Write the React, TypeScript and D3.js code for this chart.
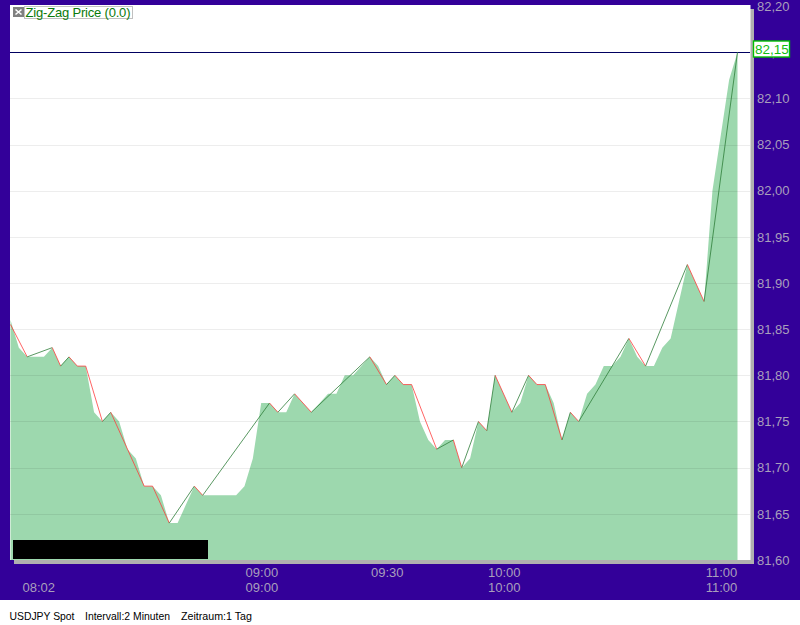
import React, { useEffect, useRef } from 'react';
import * as d3 from 'd3';

// close price per 2 minute bar
const closes = [
	81.86, 81.83, 81.82, 81.82, 81.82, 81.83, 81.81, 81.82, 81.81, 81.81,
	81.76, 81.75, 81.76, 81.75, 81.72, 81.71, 81.68, 81.68, 81.67, 81.64,
	81.64, 81.66, 81.68, 81.67, 81.67, 81.67, 81.67, 81.67, 81.68, 81.71,
	81.77, 81.77, 81.76, 81.76, 81.78, 81.77, 81.76, 81.77, 81.78, 81.78,
	81.80, 81.80, 81.81, 81.82, 81.81, 81.79, 81.80, 81.79, 81.79, 81.75,
	81.73, 81.72, 81.73, 81.73, 81.70, 81.71, 81.75, 81.74, 81.80, 81.78,
	81.76, 81.77, 81.80, 81.79, 81.79, 81.77, 81.73, 81.76, 81.75, 81.78,
	81.79, 81.81, 81.81, 81.82, 81.84, 81.82, 81.81, 81.81, 81.83, 81.84,
	81.88, 81.92, 81.90, 81.88, 82.00, 82.06, 82.12, 82.15,
];

// zig-zag pivots: bar index and price
const pivotBars = [0, 2, 5, 6, 7, 8, 9, 11, 12, 16, 17, 19, 22, 23, 31, 32, 34, 36, 43, 45, 46, 47, 48, 51, 53, 54, 56, 57, 58, 60, 62, 63, 64, 66, 67, 68, 74, 76, 81, 83, 87];
const pivotPrices = [81.855, 81.82, 81.83, 81.81, 81.82, 81.81, 81.81, 81.75, 81.76, 81.68, 81.68, 81.64, 81.68, 81.67, 81.77, 81.76, 81.78, 81.76, 81.82, 81.79, 81.80, 81.79, 81.79, 81.72, 81.73, 81.70, 81.75, 81.74, 81.80, 81.76, 81.80, 81.79, 81.79, 81.73, 81.76, 81.75, 81.84, 81.81, 81.92, 81.88, 82.15];

const priceTicks = [82.2, 82.15, 82.1, 82.05, 82.0, 81.95, 81.9, 81.85, 81.8, 81.75, 81.7, 81.65, 81.6];
const upperTimeBars = [30, 45, 59, 85];
const upperTimeLabels = ['09:00', '09:30', '10:00', '11:00'];
const lowerTimeBars = [3.3, 30, 59, 85];
const lowerTimeLabels = ['08:02', '09:00', '10:00', '11:00'];
const lastPrice = 82.15;

const purple = '#330099';
const tickGrey = '#a99fbc';
const font = '"Liberation Sans", Arial, sans-serif';

export default function App() {
	const ref = useRef<SVGSVGElement>(null);

	useEffect(() => {
		const svg = d3.select(ref.current);
		svg.selectAll('*').remove();

		const x = d3.scaleLinear().domain([0, closes.length - 1]).range([10.5, 737.5]);
		const y = d3.scaleLinear().domain([81.6, 82.2]).range([560, 6]);

		// frame
		svg.append('rect').attr('width', 800).attr('height', 625).attr('fill', '#fff');
		svg.append('rect').attr('width', 800).attr('height', 600).attr('fill', purple);
		svg.append('rect').attr('x', 14).attr('y', 9).attr('width', 740).attr('height', 555).attr('fill', '#b0b0b0');
		svg.append('rect').attr('x', 10).attr('y', 5).attr('width', 740.5).attr('height', 555).attr('fill', '#fff');

		// price area
		const area = d3.area<number>()
			.x((_, i) => x(i))
			.y0(y(81.6))
			.y1((d) => y(d));
		svg.append('path').attr('d', area(closes)).attr('fill', '#9dd8ae');

		// grid
		svg.append('g')
			.selectAll('line')
			.data(priceTicks.filter((t) => t < 82.12 && t > 81.62))
			.enter()
			.append('line')
			.attr('x1', 10)
			.attr('x2', 750)
			.attr('y1', (d) => Math.round(y(d)) + 0.5)
			.attr('y2', (d) => Math.round(y(d)) + 0.5)
			.attr('stroke', '#000')
			.attr('stroke-opacity', 0.07);

		// last price line
		svg.append('line')
			.attr('x1', 10)
			.attr('x2', 750)
			.attr('y1', Math.round(y(lastPrice)) + 0.5)
			.attr('y2', Math.round(y(lastPrice)) + 0.5)
			.attr('stroke', '#000060');

		// zig-zag, red going down and green going up
		const segments = d3.pairs(pivotBars.map((b, i) => [b, pivotPrices[i]]));
		svg.append('g')
			.selectAll('line')
			.data(segments)
			.enter()
			.append('line')
			.attr('x1', (d) => x(d[0][0]))
			.attr('y1', (d) => y(d[0][1]))
			.attr('x2', (d) => x(d[1][0]))
			.attr('y2', (d) => y(d[1][1]))
			.attr('stroke', (d) => (d[1][1] > d[0][1] ? '#2e7d3a' : '#ff3c3c'))
			.attr('stroke-width', 0.8);

		// masked box in the lower left corner
		svg.append('rect').attr('x', 13).attr('y', 540).attr('width', 195).attr('height', 19).attr('fill', '#000');

		// price axis
		const yAxis = d3.axisRight(y)
			.tickValues(priceTicks)
			.tickSize(0)
			.tickPadding(0)
			.tickFormat((d) => d3.format('.2f')(d as number).replace('.', ','));
		const yG = svg.append('g').attr('transform', 'translate(757,0)').call(yAxis);
		yG.select('.domain').remove();
		yG.selectAll('text')
			.attr('fill', tickGrey)
			.attr('font-family', font)
			.attr('font-size', 13);

		// time labels, two rows
		const timeRow = (bars: number[], labels: string[], top: number) => {
			svg.append('g')
				.selectAll('text')
				.data(bars)
				.enter()
				.append('text')
				.attr('x', (d) => x(d) + 0.7)
				.attr('y', top)
				.attr('text-anchor', 'middle')
				.attr('fill', tickGrey)
				.attr('font-family', font)
				.attr('font-size', 13)
				.text((_, i) => labels[i]);
		};
		timeRow(upperTimeBars, upperTimeLabels, 577);
		timeRow(lowerTimeBars, lowerTimeLabels, 592);

		// last price tag
		svg.append('rect')
			.attr('x', 753.5).attr('y', 41).attr('width', 36).attr('height', 16)
			.attr('fill', '#fff').attr('stroke', '#00c000').attr('stroke-width', 1.4);
		svg.append('text')
			.attr('x', 755).attr('y', 54)
			.attr('fill', '#11bb11')
			.attr('font-family', font)
			.attr('font-size', 13.5)
			.text(d3.format('.2f')(lastPrice).replace('.', ','));

		// legend
		svg.append('rect').attr('x', 13).attr('y', 7).attr('width', 11).attr('height', 10).attr('fill', '#808080');
		svg.append('path').attr('d', 'M15.5 9.5L21.5 14.5M21.5 9.5L15.5 14.5').attr('stroke', '#fff').attr('stroke-width', 1.6);
		svg.append('rect')
			.attr('x', 24.5).attr('y', 6.5).attr('width', 108).attr('height', 12)
			.attr('fill', 'none').attr('stroke', '#c0c0c0');
		svg.append('text')
			.attr('x', 25.5).attr('y', 17)
			.attr('fill', '#0a7a0a')
			.attr('font-family', font)
			.attr('font-size', 13)
			.attr('textLength', 105)
			.text('Zig-Zag Price (0.0)');

		// footer
		const footer: [number, number, string][] = [[9.5, 65, 'USDJPY Spot'], [85, 85, 'Intervall:2 Minuten'], [181, 71, 'Zeitraum:1 Tag']];
		svg.append('g')
			.selectAll('text')
			.data(footer)
			.enter()
			.append('text')
			.attr('x', (d) => d[0])
			.attr('y', 620)
			.attr('fill', '#000')
			.attr('font-family', font)
			.attr('font-size', 11)
			.attr('textLength', (d) => d[1])
			.attr('lengthAdjust', 'spacingAndGlyphs')
			.text((d) => d[2]);
	}, []);

	return <svg ref={ref} width={800} height={625} style={{ position: 'absolute', left: 0, top: 0 }} />;
}
